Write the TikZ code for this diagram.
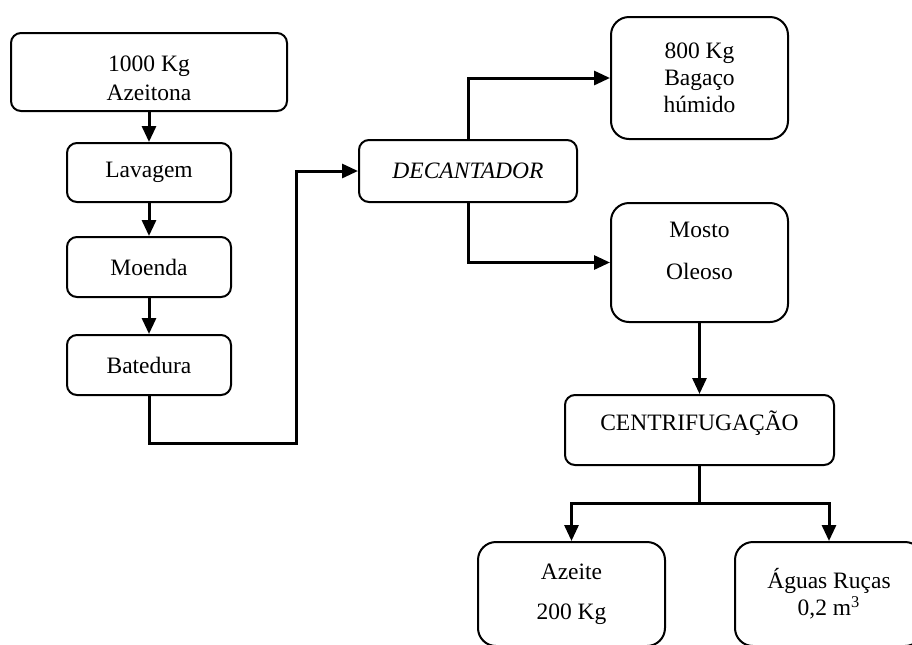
\documentclass[tikz,border=0pt]{standalone}
\usepackage{fontspec}
\setmainfont{Liberation Serif}
\usetikzlibrary{arrows.meta,positioning}
\tikzset{
    rbox/.style={rectangle, rounded corners=5pt, draw, line width=1pt, inner sep=0pt, align=center, minimum width=82pt, minimum height=30pt},
    bigbox/.style={rbox, rounded corners=9pt},
    conn/.style={line width=1.5pt, -{Triangle[length=8pt,width=7pt]}}
}

\begin{document}
\begin{tikzpicture}[x=0.5pt,y=-0.5pt,font=\fontsize{11.75}{13.5}\selectfont]
\clip (0,0) rectangle (912,644);
% left column
\node[rbox, minimum width=138pt, minimum height=39pt] (azeitona) at (149,72) {\rule{0pt}{14pt}1000 Kg\\[1pt]Azeitona};
\node[rbox, minimum height=29.5pt] (lavagem) at (149,172.5) {Lavagem};
\node[rbox] (moenda) at (149,267) {Moenda};
\node[rbox] (batedura) at (149,365) {Batedura};
% decanter and outputs
\node[rbox, minimum width=109pt, minimum height=31pt] (decant) at (468,171) {\textit{DECANTADOR}};
\node[bigbox, minimum width=88.5pt, minimum height=61pt] (bagaco) at (699.5,78) {800 Kg\\Bagaço\\húmido};
\node[bigbox, minimum width=88.5pt, minimum height=59.5pt, text depth=12pt] (mosto) at (699.5,262.5) {Mosto\\[7.5pt]Oleoso};
\node[rbox, minimum width=134.5pt, minimum height=35pt, text height=10pt, text depth=9.5pt] (centrif) at (699.5,430) {CENTRIFUGAÇÃO};
\node[bigbox, minimum width=93.5pt, minimum height=52pt] (azeite) at (571.5,594) {Azeite\\[6.5pt]200 Kg};
\node[bigbox, minimum width=94pt, minimum height=52pt] (aguas) at (829,594) {Águas Ruças\\0,2 m\textsuperscript{3}};
\coordinate (turn) at (296,443);
\coordinate (split) at (699.5,503);
% connectors
\draw[conn] (azeitona) -- (lavagem);
\draw[conn] (lavagem) -- (moenda);
\draw[conn] (moenda) -- (batedura);
\draw[conn] (batedura.south) |- (turn) |- (decant.west);
\draw[conn] (decant.north) |- (bagaco.west);
\draw[conn] (decant.south) |- (mosto.west);
\draw[conn] (mosto) -- (centrif);
\draw[line width=1.5pt] (centrif.south) -- (split);
\draw[conn] (split) -| (azeite.north);
\draw[conn] (split) -| (aguas.north);
\end{tikzpicture}
\end{document}
